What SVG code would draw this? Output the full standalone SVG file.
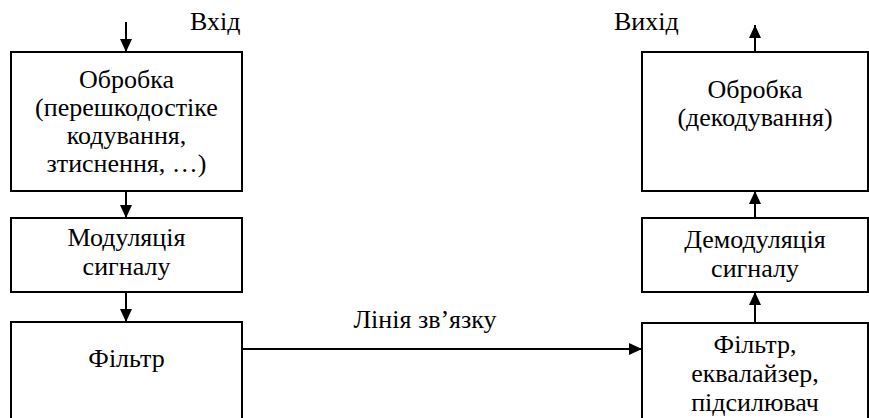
<svg xmlns="http://www.w3.org/2000/svg" width="869" height="418" viewBox="0 0 869 418">
<style>
.box{fill:#fff;stroke:#000;stroke-width:2}
text{font-family:'Liberation Serif','Times New Roman',serif;font-size:26px;fill:#000}
.t{text-anchor:middle}
.c{stroke:#000;stroke-width:2;fill:none;marker-end:url(#ah)}
</style>
<defs>
<marker id="ah" markerUnits="userSpaceOnUse" markerWidth="14" markerHeight="12" refX="13" refY="6" orient="auto">
<path d="M0,0 L13,6 L0,12 Z" fill="#000"/>
</marker>
</defs>
<g id="n-in-label"><text x="190" y="30">Вхід</text></g>
<g id="n-out-label"><text x="614" y="30">Вихід</text></g>
<g id="n-proc"><rect class="box" x="11" y="52" width="231" height="139"/>
<text class="t" x="126.5" y="88">Обробка</text>
<text class="t" x="126.5" y="116">(перешкодостіке</text>
<text class="t" x="126.5" y="144">кодування,</text>
<text class="t" x="126.5" y="172">зтиснення, …)</text></g>
<g id="n-mod"><rect class="box" x="11" y="218" width="231" height="74"/>
<text class="t" x="126.5" y="246">Модуляція</text>
<text class="t" x="126.5" y="275">сигналу</text></g>
<g id="n-filter"><rect class="box" x="11" y="322" width="231" height="100"/>
<text class="t" x="126.5" y="367">Фільтр</text></g>
<g id="n-dec"><rect class="box" x="642" y="52" width="226" height="139"/>
<text class="t" x="755" y="98">Обробка</text>
<text class="t" x="755" y="126">(декодування)</text></g>
<g id="n-demod"><rect class="box" x="642" y="218" width="226" height="74"/>
<text class="t" x="755" y="248">Демодуляція</text>
<text class="t" x="755" y="277">сигналу</text></g>
<g id="n-rfilter"><rect class="box" x="642" y="323" width="226" height="100"/>
<text class="t" x="755" y="353">Фільтр,</text>
<text class="t" x="755" y="382">еквалайзер,</text>
<text class="t" x="755" y="411">підсилювач</text></g>
<g id="connectors">
<line class="c" x1="126" y1="22" x2="126" y2="52"/>
<line class="c" x1="126" y1="191" x2="126" y2="218"/>
<line class="c" x1="126" y1="292" x2="126" y2="322"/>
<line class="c" x1="242" y1="349" x2="642" y2="349"/>
<line class="c" x1="755" y1="323" x2="755" y2="292"/>
<line class="c" x1="755" y1="218" x2="755" y2="191"/>
<line class="c" x1="755" y1="52" x2="755" y2="25"/>
<text class="t" x="425" y="328">Лінія зв’язку</text>
</g>
</svg>
